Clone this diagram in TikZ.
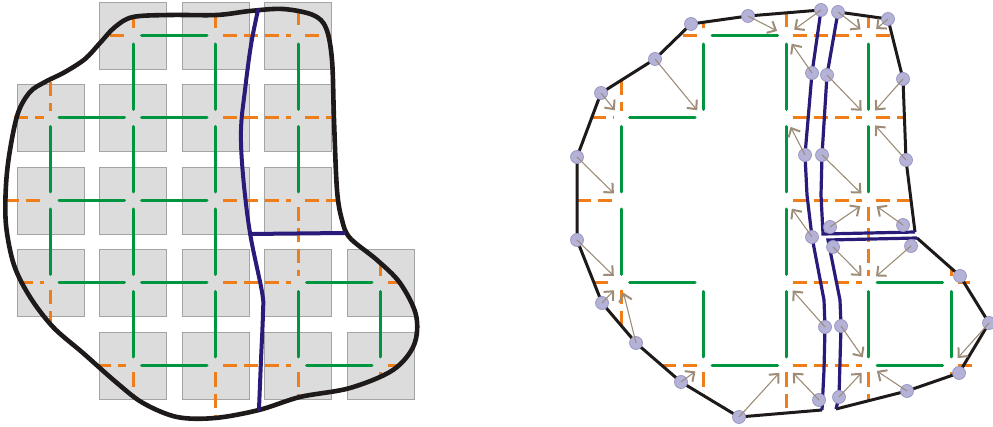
\documentclass[tikz,border=0pt]{standalone}
\usetikzlibrary{arrows.meta}
\definecolor{gr}{HTML}{009640}
\definecolor{og}{HTML}{EF7D1A}
\definecolor{bl}{HTML}{2A1B7A}
\definecolor{bk}{HTML}{1E1A19}
\definecolor{sq}{HTML}{DCDCDC}
\definecolor{sqd}{HTML}{A4A4A4}
\definecolor{cpf}{HTML}{B5B2D8}
\definecolor{cpd}{HTML}{9794C0}
\definecolor{ar}{HTML}{9D8C78}
\tikzset{
 ge/.style={draw=gr, line width=3pt, line cap=round},
 oe/.style={draw=og, line width=3pt, dash pattern=on 14pt off 7pt},
 sqbox/.style={fill=sq, draw=sqd, line width=0.8pt},
 bnd/.style={draw=bk, line width=4.6pt, line join=round},
 cut/.style={draw=bl, line width=4pt, line join=round, line cap=round},
 rbnd/.style={draw=bk, line width=3pt, line join=round},
 rcut/.style={draw=bl, line width=3.2pt},
 cp/.style={circle, fill=cpf, draw=cpd, line width=0.7pt, minimum size=13pt, inner sep=0pt},
 arr/.style={draw=ar, line width=1.1pt, shorten >=10pt, -{Straight Barb[length=7pt,width=13pt,line width=2pt]}},
}
\def\ox{0}
\newcommand\hg[3]{\draw[ge] ({\ox+#2+8.5},#1) -- ({\ox+#3-8.5},#1);}
\newcommand\ho[3]{\draw[oe] ({\ox+#2+7},#1) -- ({\ox+#3-7},#1);}
\newcommand\vg[3]{\draw[ge] ({\ox+#1},{#2+8.5}) -- ({\ox+#1},{#3-8.5});}
\newcommand\vo[3]{\draw[oe] ({\ox+#1},{#2+7}) -- ({\ox+#1},{#3-7});}
\newcommand\sharededges{%
 \hg{35.5}{133}{215.5} \hg{118}{50.5}{133} \hg{283}{50.5}{133} \hg{283}{298}{380.5}
 \hg{365.5}{133}{215.5} \hg{365.5}{298}{380.5}
 \ho{35.5}{215.5}{298} \ho{118}{215.5}{298} \ho{200.5}{215.5}{298} \ho{283}{215.5}{298} \ho{365.5}{215.5}{298}
 \vg{50.5}{118}{200.5} \vg{50.5}{200.5}{283}
 \vg{133}{35.5}{118} \vg{133}{283}{365.5}
 \vg{215.5}{35.5}{118} \vg{215.5}{118}{200.5} \vg{215.5}{200.5}{283} \vg{215.5}{283}{365.5}
 \vg{298}{35.5}{118} \vg{298}{118}{200.5} \vg{298}{283}{365.5}
 \vg{380.5}{283}{365.5}
 \vo{298}{200.5}{283}}
\begin{document}
\begin{tikzpicture}[x=1pt,y=-1pt]
\useasboundingbox (0,0) rectangle (993,427);
% ---------------- left panel ----------------
\foreach \c/\r in {2/1,3/1,4/1,1/2,2/2,3/2,4/2,1/3,2/3,3/3,4/3,1/4,2/4,3/4,4/4,5/4,2/5,3/5,4/5,5/5}{
 \pgfmathsetmacro\xx{17+82.5*(\c-1)}
 \pgfmathsetmacro\yy{2+82.5*(\r-1)}
 \path[sqbox] (\xx,\yy) rectangle ++(67,67);
}
\sharededges
\hg{118}{133}{215.5} \hg{200.5}{50.5}{133} \hg{200.5}{133}{215.5} \hg{283}{133}{215.5}
\vg{133}{118}{200.5} \vg{133}{200.5}{283}
\foreach \a/\b/\y in {110/126/35.5, 305/331/35.5, 14/43.5/118, 305/334/118, 5/43.5/200.5, 305/338/200.5,
 19/43.5/283, 387.5/401/283, 97/126/365.5, 387.5/398/365.5}
 \draw[oe] (\a,\y) -- (\b,\y);
\foreach \x/\a/\b in {50.5/82/111, 50.5/290/322, 133/18/28.5, 133/372.5/395, 215.5/15/28.5, 215.5/372.5/417,
 298/11/28.5, 298/372.5/396, 380.5/265/276, 380.5/372.5/377}
 \draw[oe] (\x,\a) -- (\x,\b);
\draw[bnd] plot[smooth cycle, tension=0.55] coordinates {
 (133,17) (170,15) (217,15) (250,11) (283,9) (313,15) (326,28) (332,60) (334,120) (337,190)
 (342,220) (350,238) (377,260) (400,283) (416,315) (414,345) (393,370) (350,388) (300,397)
 (259,410) (215,418) (177,417) (143,403) (117,383) (83,353) (53,327) (30,297) (14,265)
 (6,225) (6,185) (10,150) (18,113) (30,92) (45,82) (65,72) (85,59) (100,43) (115,27)};
\draw[cut] plot[smooth, tension=0.6] coordinates {(258,10) (251,45) (245,90) (241,130) (243,175)
 (250,233) (262,292) (263,312) (261,360) (259,409)};
\draw[cut] (250,234) -- (344,233);
% ---------------- right panel ----------------
\begin{scope}
\def\ox{570.5}
\sharededges
\end{scope}
\foreach \a/\b/\y in {683/696.5/35.5, 875.5/892/35.5, 592/614/118, 875.5/904/118, 577/614/200.5,
 875.5/911/200.5, 594/614/283, 958/970/283, 662/696.5/365.5, 958/972/365.5}
 \draw[oe] (\a,\y) -- (\b,\y);
\foreach \x/\a/\b in {621/81/111, 621/290/325, 703.5/22/28.5, 703.5/372.5/395, 786/13/28.5, 786/372.5/412,
 868.5/16/28.5, 868.5/372.5/400, 951/268/276, 951/372.5/376}
 \draw[oe] (\x,\a) -- (\x,\b);
\foreach \i/\x in {1/621,2/703.5,3/786,4/868.5,5/951}
 \foreach \j/\y in {1/35.5,2/118,3/200.5,4/283,5/365.5}
  \coordinate (r\i\j) at (\x,\y);
\foreach \n/\x/\y in {1/577/157, 2/601/93, 3/655/59, 4/691/24, 5/748/16, 6/821/10, 7/812/73, 8/805/155,
 9/812/237, 10/825/327, 11/819/400, 12/739/417, 13/681/382, 14/636/343, 15/602/303, 16/577/240,
 17/838/12, 18/888/19, 19/903/79, 20/906/160, 21/903/225, 22/830/227, 23/822/155, 24/827/75,
 25/833/247, 26/911/246, 27/960/276, 28/989/323, 29/959/373, 30/907/391, 31/839/397, 32/841/326}
 \coordinate (q\n) at (\x,\y);
\coordinate (lb) at (822,410);
\coordinate (urc) at (915,232);
\coordinate (lrc) at (917,238);
\coordinate (lrb) at (836,409);
% region boundaries
\draw[rbnd] (lb) -- (q12) -- (q13) -- (q14) -- (q15) -- (q16) -- (q1) -- (q2) -- (q3) -- (q4) -- (q5) -- (q6);
\draw[rcut] (q6) -- (q7) -- (q8) -- (807,195) -- (q9) -- (824,300) -- (q10) -- (824,370) -- (lb);
\draw[rbnd] (q17) -- (q18) -- (q19) -- (q20) -- (urc);
\draw[rcut] (urc) -- (823,234) -- (821,195) -- (q23) -- (q24) -- (q17);
\draw[rbnd] (lrc) -- (q27) -- (q28) -- (q29) -- (q30) -- (lrb);
\draw[rcut] (lrb) -- (q31) -- (q32) -- (840,300) -- (828,240) -- (lrc);
% control points
\foreach \n in {1,...,32} \node[cp] (p\n) at (q\n) {};
% arrows
\foreach \n/\t in {1/13, 2/12, 3/22, 5/31, 6/31, 7/31, 8/32, 9/33, 10/34, 11/35, 12/35, 13/25, 14/14, 15/14, 16/14,
 17/41, 18/41, 19/42, 20/42, 21/43, 22/43, 23/43, 24/42, 25/44, 26/44, 28/55, 30/45, 31/45, 32/45}
 \draw[arr] (p\n.center) -- (r\t);
\end{tikzpicture}
\end{document}
